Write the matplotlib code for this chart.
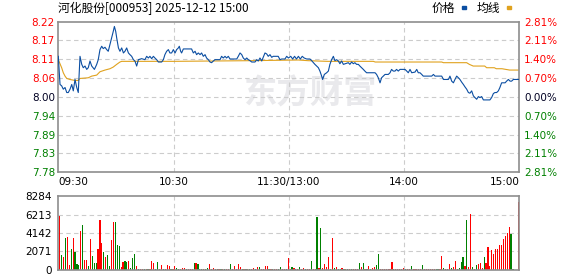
import matplotlib
matplotlib.use("Agg")
import numpy as np
import matplotlib.pyplot as plt
from matplotlib.patches import Rectangle


# -----------------------------
# Data
# -----------------------------
title = "河化股份[000953] 2025-12-12 15:00"
pre_close = 8.00
max_pct = 2.81

price_labels = ["8.22", "8.17", "8.11", "8.06", "8.00", "7.94", "7.89", "7.83", "7.78"]
pct_labels = ["2.81%", "2.11%", "1.40%", "0.70%", "0.00%", "0.70%", "1.40%", "2.11%", "2.81%"]

time_pos = [0, 60, 120, 180, 240]
time_labels = ["09:30", "10:30", "11:30/13:00", "14:00", "15:00"]

vol_ticks = [0, 2071, 4142, 6213, 8284]

# minute price (blue), keypoints
price_t = [
    0, 0.9, 1.75, 2.6, 3.5, 4.4, 5.2, 6.1, 7.0, 7.8, 8.7, 9.6, 10.4, 11.3, 12.2,
    13.0, 13.9, 14.8, 15.6, 16.5, 17.4, 18.8, 20.0, 20.8, 21.7, 22.6, 23.4, 24.3,
    25.2, 26.0, 26.9, 27.8, 28.6, 29.2, 29.9, 30.4, 31.3, 32.1, 33.0, 33.9, 34.7,
    35.6, 36.5, 37.3, 38.2, 39.1, 39.9, 40.8, 41.7, 43.4, 45.1, 46.0, 46.9, 47.7,
    48.6, 49.5, 50.3, 51.2, 52.1, 53.8, 54.7, 55.5, 56.4, 57.3, 58.1, 59.0, 59.9,
    60.8, 61.6, 62.5, 63.0, 63.7, 64.2, 65.1, 69.4, 70.3, 71.2, 72.0, 72.9, 73.8,
    74.6, 75.5, 76.4, 77.2, 78.1, 79.0, 79.8, 80.7, 81.6, 84.2, 85.0, 85.9, 86.8,
    87.6, 88.5, 89.4, 92.9, 93.7, 94.6, 95.5, 96.3, 97.2, 98.1, 98.9, 99.8, 100.7,
    102.4, 103.3, 104.1, 105.0, 105.9, 106.7, 107.6, 108.5, 109.3, 110.2, 111.1,
    111.9, 114.5, 115.4, 116.3, 118.0, 118.9, 119.8, 121, 122, 123, 124, 125, 126,
    127, 128, 129.3, 131.0, 131.9, 133.6, 135.4, 136.2, 137.1, 137.6, 138.5, 139.7,
    140.6, 141.4, 142.3, 143.2, 144.0, 144.9, 145.8, 146.6, 147.5, 148.4, 151.0,
    151.8, 152.7, 153.6, 154.4, 155.3, 156.2, 157.0, 157.9, 158.8, 159.6, 160.5,
    164.9, 165.7, 166.6, 167.5, 168.3, 169.2, 170.1, 171.8, 172.7, 173.5, 174.4,
    175.3, 176.1, 177.0, 177.9, 180.5, 181.4, 182.2, 183.1, 184.0, 185.7, 186.6,
    187.4, 188.3, 189.2, 190.0, 194.4, 195.3, 196.1, 199.6, 200.5, 203.1, 203.9,
    204.8, 205.7, 206.5, 207.4, 208.3, 209.1, 210.0, 210.9, 211.7, 212.6, 213.5,
    214.3, 215.2, 216.1, 216.9, 217.8, 218.7, 219.5, 220.4, 221.3, 224.7, 225.6,
    226.5, 227.3, 228.2, 229.1, 229.9, 230.8, 232.6, 233.4, 234.3, 235.2, 236.0,
    236.9, 240.0,
]
price = [
    8.121, 8.037, 8.033, 8.023, 8.028, 8.013, 8.013, 8.023, 8.037, 8.018, 8.052,
    8.028, 8.013, 8.121, 8.097, 8.087, 8.092, 8.082, 8.087, 8.107, 8.092, 8.082,
    8.097, 8.111, 8.141, 8.151, 8.144, 8.148, 8.141, 8.136, 8.156, 8.176, 8.195,
    8.210, 8.195, 8.176, 8.146, 8.136, 8.146, 8.131, 8.136, 8.146, 8.131, 8.126,
    8.121, 8.111, 8.107, 8.092, 8.111, 8.114, 8.111, 8.121, 8.116, 8.121, 8.114,
    8.121, 8.116, 8.111, 8.104, 8.104, 8.111, 8.126, 8.136, 8.141, 8.131, 8.131,
    8.141, 8.131, 8.141, 8.146, 8.151, 8.136, 8.131, 8.143, 8.143, 8.131, 8.136,
    8.126, 8.131, 8.126, 8.131, 8.121, 8.126, 8.116, 8.111, 8.104, 8.102, 8.107,
    8.111, 8.111, 8.121, 8.116, 8.121, 8.116, 8.121, 8.113, 8.113, 8.121, 8.131,
    8.126, 8.116, 8.111, 8.116, 8.111, 8.108, 8.104, 8.104, 8.111, 8.107, 8.116,
    8.107, 8.118, 8.131, 8.128, 8.121, 8.126, 8.118, 8.121, 8.121, 8.111, 8.113,
    8.113, 8.121, 8.116, 8.121, 8.113, 8.121, 8.113, 8.121, 8.113, 8.121, 8.116,
    8.113, 8.113, 8.108, 8.097, 8.087, 8.077, 8.062, 8.052, 8.067, 8.072, 8.077,
    8.097, 8.111, 8.121, 8.108, 8.111, 8.107, 8.099, 8.107, 8.097, 8.102, 8.097,
    8.104, 8.099, 8.102, 8.097, 8.097, 8.092, 8.087, 8.082, 8.077, 8.072, 8.072,
    8.067, 8.057, 8.042, 8.057, 8.062, 8.067, 8.067, 8.072, 8.082, 8.077, 8.077,
    8.082, 8.077, 8.082, 8.082, 8.077, 8.072, 8.082, 8.072, 8.074, 8.082, 8.072,
    8.072, 8.067, 8.062, 8.062, 8.067, 8.062, 8.062, 8.052, 8.052, 8.062, 8.047,
    8.042, 8.052, 8.062, 8.057, 8.052, 8.044, 8.037, 8.030, 8.023, 8.013, 8.011,
    8.018, 8.003, 7.998, 7.993, 8.001, 7.998, 8.001, 7.991, 7.991, 7.998, 8.010,
    8.013, 8.013, 8.018, 8.028, 8.042, 8.042, 8.047, 8.052, 8.047, 8.047, 8.052,
    8.052,
]

# average price (yellow), keypoints
avg_t = [
    0, 1.75, 2.6, 3.5, 4.4, 6, 8.7, 10.4, 11.3, 15.6, 17.4, 20, 21.7, 24.3, 26.9,
    28.6, 30.4, 32.1, 33, 60, 100, 125, 130, 140, 164, 165, 199.6, 200.5, 212.6,
    214, 216, 222, 223, 227, 228, 231, 233, 235, 240,
]
avg_price = [
    8.111, 8.087, 8.072, 8.062, 8.055, 8.052, 8.049, 8.049, 8.055, 8.057, 8.062,
    8.065, 8.075, 8.080, 8.084, 8.089, 8.097, 8.104, 8.106, 8.106, 8.108, 8.110,
    8.108, 8.106, 8.106, 8.104, 8.104, 8.102, 8.102, 8.097, 8.092, 8.092, 8.087,
    8.087, 8.084, 8.084, 8.082, 8.080, 8.080,
]

# volume per minute, minutes 1..240
volume = [
    6030, 1600, 1420, 3600, 3720, 460, 2340, 3600, 1990, 650,
    540, 4400, 4980, 1110, 1110, 380, 3490, 1530, 730, 730,
    2340, 5560, 3030, 1990, 1420, 1640, 380, 3380, 5330, 5330,
    2800, 2680, 270, 840, 960, 840, 960, 150, 1300, 1760,
    380, 80, 80, 80, 40, 40, 40, 80, 960, 730,
    40, 840, 40, 500, 40, 40, 500, 350, 40, 40,
    380, 150, 80, 40, 150, 150, 40, 40, 40, 40,
    730, 730, 610, 40, 40, 40, 80, 150, 610, 80,
    150, 80, 40, 80, 40, 40, 80, 40, 80, 610,
    80, 350, 80, 610, 270, 40, 40, 80, 40, 40,
    80, 150, 40, 270, 270, 40, 80, 380, 380, 40,
    40, 40, 80, 40, 40, 270, 40, 80, 40, 1340,
    80, 270, 150, 80, 80, 270, 80, 150, 80, 80,
    80, 960, 80, 80, 5900, 150, 4640, 150, 610, 270,
    1420, 80, 3600, 150, 270, 80, 80, 150, 80, 80,
    80, 80, 80, 80, 80, 80, 730, 270, 730, 80,
    40, 380, 80, 150, 270, 500, 1760, 80, 80, 80,
    80, 80, 80, 840, 80, 80, 80, 80, 80, 150,
    80, 80, 80, 380, 40, 80, 80, 80, 80, 500,
    80, 80, 80, 80, 80, 80, 80, 80, 80, 1530,
    150, 80, 80, 610, 150, 270, 960, 80, 150, 840,
    1420, 380, 5560, 270, 6250, 270, 40, 500, 610, 730,
    150, 1420, 730, 2570, 380, 2220, 1760, 2340, 2340, 2800,
    2800, 3490, 3835, 4180, 4755, 4065, 80, 0, 0, 7670,
]
vol_dir = (
    "rgrgrrgrgg" "grgrrgrggg" "rrrgrggrrg" "ggrrggrggg" "rgrrgrgrrr"
    "ggrrgrrrgr" "rggrrrgrrr" "grgggrggrr" "rrgrgrgrrg" "rrrrrgrgrg"
    "rrgrgrrrrg" "rgrrggrrgr" "rgrgrgrrgr" "rgrrgrgrrr" "rgrgrggrgr"
    "grgrrrgrgr" "grgrrggrrr" "rrrrgrrrrr" "grrgrrrrrg" "rrrrrrggrr"
    "grrrgrrggg" "grgrrgrgrr" "rgrrrrrrrr" "rrrrrggrrr"
)


# -----------------------------
# Figure layout (pixels)
# -----------------------------
W, H = 578, 276
RED = "#FF0000"
GREEN = "#008000"
GRID = "#CCCCCC"
FRAME = "#8E8E8E"
BLUE = "#0B4EA2"
GOLD = "#E0A21E"
CJK = ["Noto Sans CJK SC", "DejaVu Sans"]

plt.rcParams["font.family"] = ["DejaVu Sans", "Noto Sans CJK SC"]

fig = plt.figure(figsize=(W / 100, H / 100), dpi=100)
ax1 = fig.add_axes([58.3 / W, 1 - 172.3 / H, 461 / W, 150.8 / H])
ax2 = fig.add_axes([58.3 / W, 1 - 269.5 / H, 461 / W, 73.2 / H])

half = pre_close * max_pct / 100
levels = np.linspace(pre_close + half, pre_close - half, 9)
label_colors = [RED] * 4 + ["#000022"] + [GREEN] * 4


# -----------------------------
# Price panel
# -----------------------------
ax1.set_xlim(0, 240)
ax1.set_ylim(pre_close - half, pre_close + half)

for lv in levels[1:-1]:
    ax1.axhline(lv, color=GRID, lw=0.8, ls=(0, (4, 3)), zorder=1)
for tp in time_pos[1:-1]:
    ax1.axvline(tp, color=GRID, lw=0.8, ls=(0, (4, 3)), zorder=1)

ax1.text(0.546, 0.522, "东方财富", transform=ax1.transAxes,
         fontsize=24, fontweight="bold", color="#E9E9EC",
         ha="center", va="center", family=CJK, zorder=0)

ax1.plot(avg_t, avg_price, color=GOLD, lw=0.8, zorder=2)
ax1.plot(price_t, price, color=BLUE, lw=0.8, zorder=3)

ax1.set_yticks(levels, price_labels)
for lab, c in zip(ax1.get_yticklabels(), label_colors):
    lab.set_color(c)
ax1.tick_params(axis="y", length=0, pad=2.4, labelsize=7.5)

ax1.set_xticks(time_pos, time_labels)
ax1.tick_params(axis="x", length=0, pad=3.3, labelsize=7.5)
xl = ax1.get_xticklabels()
xl[0].set_ha("left")
xl[-1].set_ha("right")

axr = ax1.twinx()
axr.set_ylim(pre_close - half, pre_close + half)
axr.set_yticks(levels, pct_labels)
for lab, c in zip(axr.get_yticklabels(), label_colors):
    lab.set_color(c)
axr.tick_params(axis="y", length=0, pad=3.4, labelsize=7.5)
for sp in axr.spines.values():
    sp.set_visible(False)


# -----------------------------
# Volume panel
# -----------------------------
minutes = np.arange(1, len(volume) + 1)
bar_colors = [RED if d == "r" else GREEN for d in vol_dir]
ax2.bar(minutes - 0.3, volume, width=0.6, color=bar_colors,
        linewidth=0, antialiased=False, zorder=2)

ax2.set_xlim(0, 240)
ax2.set_ylim(vol_ticks[0], vol_ticks[-1])
for v in vol_ticks[1:-1]:
    ax2.axhline(v, color=GRID, lw=0.8, ls=(0, (4, 3)), zorder=1)
for tp in time_pos[1:-1]:
    ax2.axvline(tp, color=GRID, lw=0.8, ls=(0, (4, 3)), zorder=1)

ax2.set_xticks([])
ax2.set_yticks(vol_ticks, [str(v) for v in vol_ticks])
ax2.tick_params(axis="y", length=0, pad=4.5, labelsize=7.5)

for ax in (ax1, ax2):
    for sp in ax.spines.values():
        sp.set_color(FRAME)
        sp.set_linewidth(1.2)


# -----------------------------
# Title and legend
# -----------------------------
fig.text(58 / W, 1 - 8 / H, title, fontsize=8.5, family=CJK,
         ha="left", va="center")

fig.text(432 / W, 1 - 8 / H, "价格", fontsize=8.5, family=CJK,
         ha="left", va="center")
fig.add_artist(Rectangle((462 / W, 1 - 8.5 / H), 3.5 / W, 2.5 / H,
                         transform=fig.transFigure, color=BLUE))
fig.text(477 / W, 1 - 8 / H, "均线", fontsize=8.5, family=CJK,
         ha="left", va="center")
fig.add_artist(Rectangle((507 / W, 1 - 8.5 / H), 3.5 / W, 2.5 / H,
                         transform=fig.transFigure, color=GOLD))

fig.savefig("out.png", dpi=100)
plt.close()
